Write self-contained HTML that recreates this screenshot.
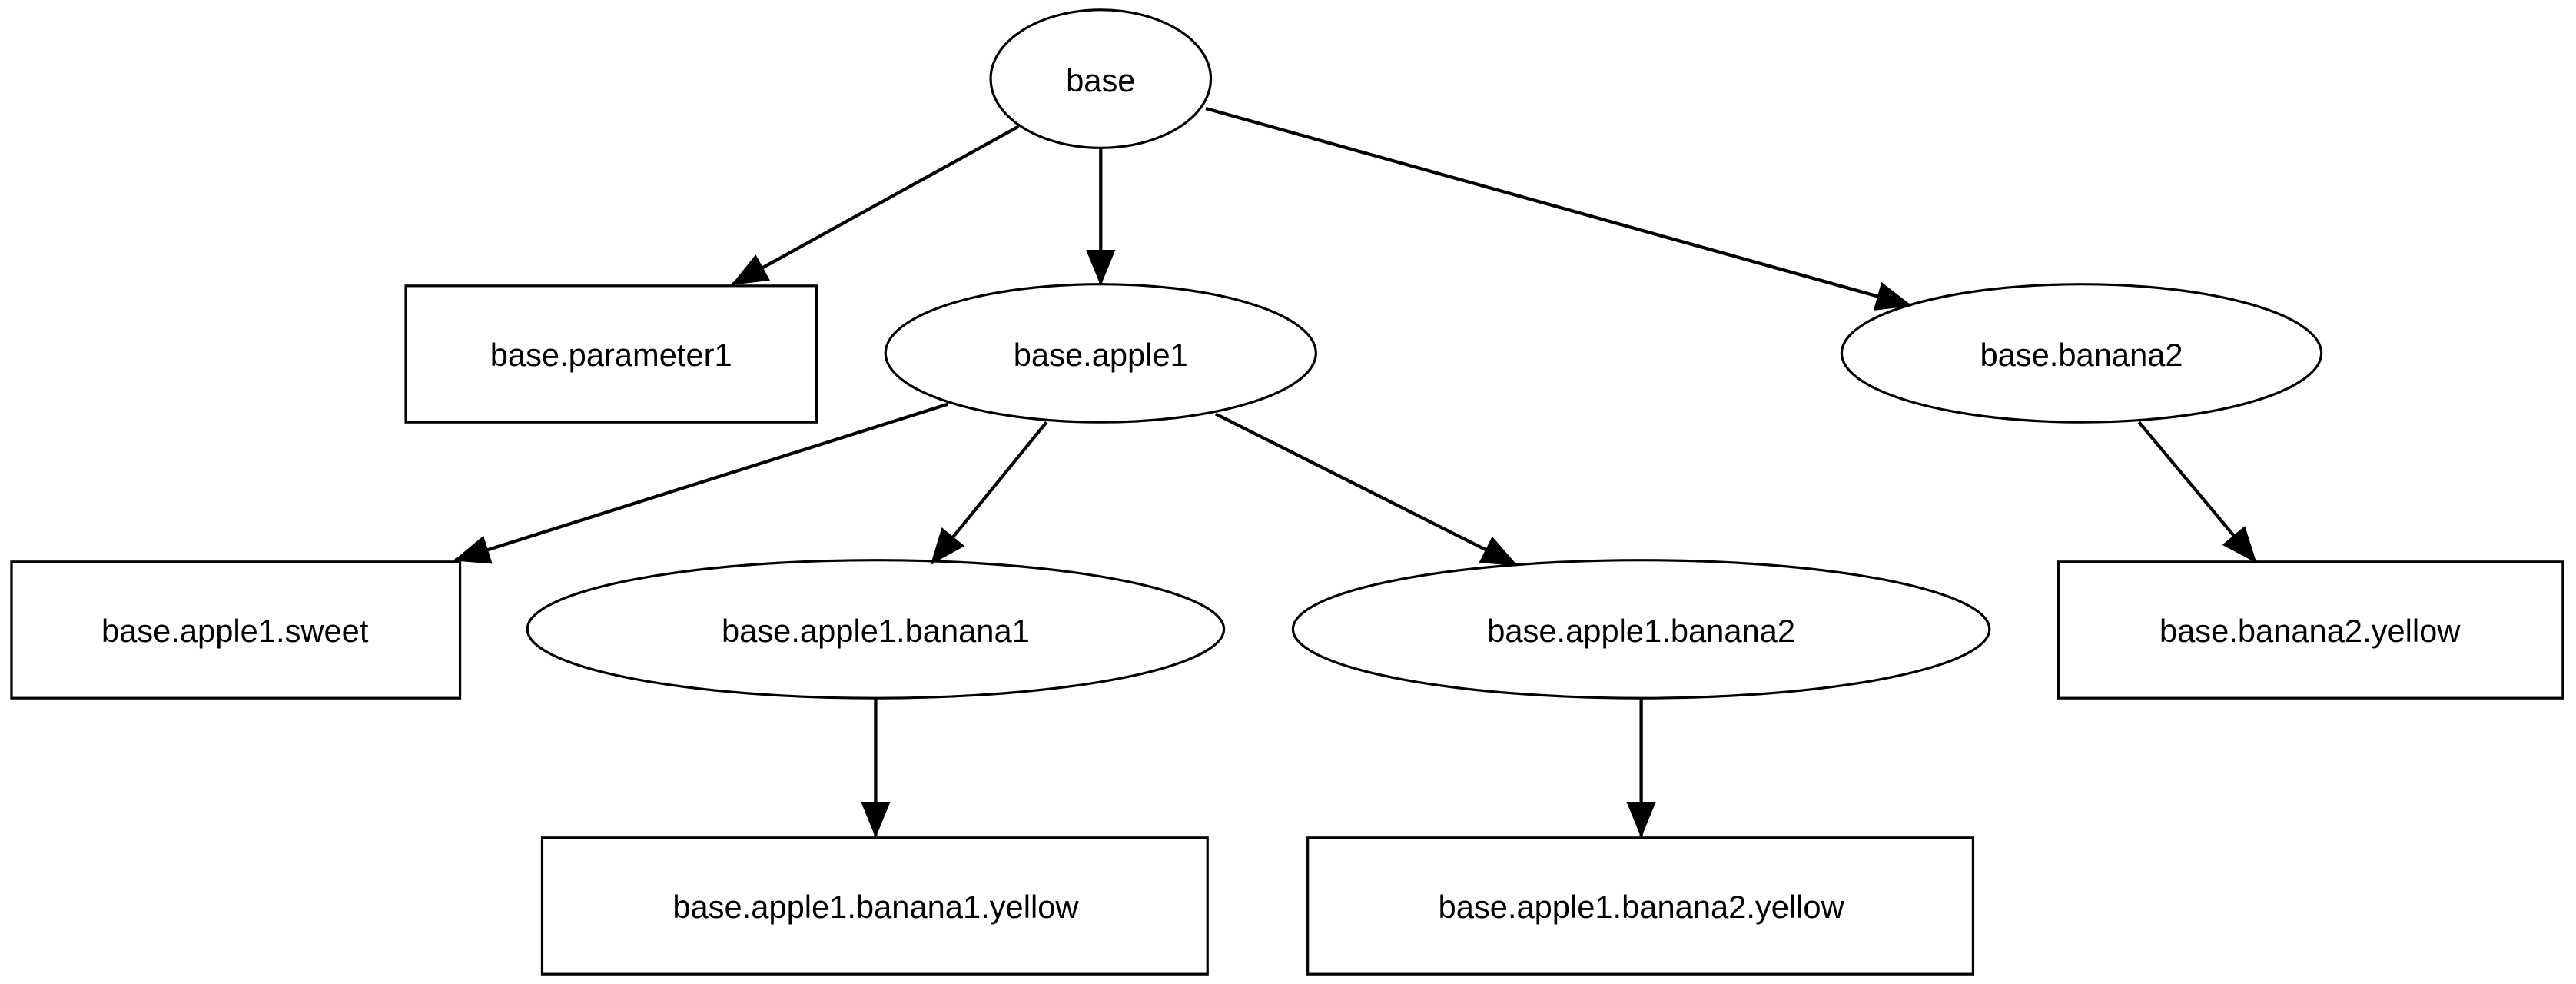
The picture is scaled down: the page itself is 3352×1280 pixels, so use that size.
<!DOCTYPE html>
<html><head><meta charset="utf-8"><style>
html,body{margin:0;padding:0;background:#fff;}
svg{display:block;}
text{font-family:"Liberation Sans",sans-serif;font-size:19.5px;fill:#000;text-anchor:middle;dominant-baseline:central;}
.n{fill:none;stroke:#000;stroke-width:1.5;}
.e{stroke:#000;stroke-width:2;fill:none;}
</style></head><body>
<svg width="3352" height="1280" viewBox="0 0 1568 599" preserveAspectRatio="none">
<defs>
<marker id="b" viewBox="0 0 22 18" refX="21" refY="9" markerWidth="22" markerHeight="18" orient="auto" markerUnits="userSpaceOnUse"><path d="M0,0 L22,9 L0,18 z" fill="#000"/></marker></defs>
<ellipse class="n" cx="670" cy="48" rx="67" ry="42"/><text x="670" y="49">base</text>
<rect class="n" x="247" y="174" width="250" height="83"/><text x="372" y="216">base.parameter1</text>
<ellipse class="n" cx="670" cy="215" rx="131" ry="42"/><text x="670" y="216">base.apple1</text>
<ellipse class="n" cx="1267" cy="215" rx="146" ry="42"/><text x="1267" y="216">base.banana2</text>
<rect class="n" x="7" y="342" width="273" height="83"/><text x="143" y="384">base.apple1.sweet</text>
<ellipse class="n" cx="533" cy="383" rx="212" ry="42"/><text x="533" y="384">base.apple1.banana1</text>
<ellipse class="n" cx="999" cy="383" rx="212" ry="42"/><text x="999" y="384">base.apple1.banana2</text>
<rect class="n" x="1253" y="342" width="307" height="83"/><text x="1406" y="384">base.banana2.yellow</text>
<rect class="n" x="330" y="510" width="405" height="83"/><text x="533" y="552">base.apple1.banana1.yellow</text>
<rect class="n" x="796" y="510" width="405" height="83"/><text x="999" y="552">base.apple1.banana2.yellow</text>
<line class="e" x1="620" y1="77" x2="446" y2="173" marker-end="url(#b)"/>
<line class="e" x1="670" y1="90" x2="670" y2="173" marker-end="url(#b)"/>
<line class="e" x1="734" y1="66" x2="1163" y2="186" marker-end="url(#b)"/>
<line class="e" x1="577" y1="246" x2="277" y2="341" marker-end="url(#b)"/>
<line class="e" x1="637" y1="257" x2="567" y2="343" marker-end="url(#b)"/>
<line class="e" x1="740" y1="252" x2="923" y2="344" marker-end="url(#b)"/>
<line class="e" x1="1302" y1="257" x2="1373" y2="342" marker-end="url(#b)"/>
<line class="e" x1="533" y1="425" x2="533" y2="509" marker-end="url(#b)"/>
<line class="e" x1="999" y1="425" x2="999" y2="509" marker-end="url(#b)"/>
</svg>
</body></html>
